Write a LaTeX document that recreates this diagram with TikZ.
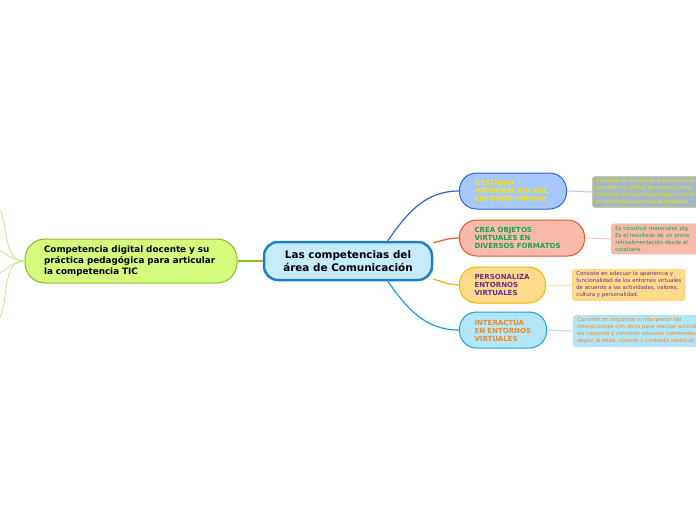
\documentclass[tikz,border=0pt]{standalone}
\usepackage{fontspec}
\setmainfont{DejaVu Sans}
\usetikzlibrary{positioning}

\definecolor{cenfill}{HTML}{C6ECFB}
\definecolor{cenline}{HTML}{1D80C4}
\definecolor{leftfill}{HTML}{D5FB7D}
\definecolor{leftline}{HTML}{8DB82D}
\definecolor{leftbranch}{HTML}{C9E28F}
\definecolor{gesfill}{HTML}{A6C8FC}
\definecolor{gesline}{HTML}{2B63D6}
\definecolor{gestext}{HTML}{F4DE10}
\definecolor{gesdesc}{HTML}{A3B8C4}
\definecolor{gesdline}{HTML}{D6C46C}
\definecolor{creafill}{HTML}{F8BBA9}
\definecolor{crealine}{HTML}{E9542C}
\definecolor{creatext}{HTML}{1AA34A}
\definecolor{perfill}{HTML}{FEDB8A}
\definecolor{perline}{HTML}{F7B500}
\definecolor{pertext}{HTML}{6B2D8E}
\definecolor{intfill}{HTML}{B4E6FA}
\definecolor{intline}{HTML}{18A0E0}
\definecolor{inttext}{HTML}{F08A24}

\begin{document}
\begin{tikzpicture}[x=1pt,y=-1pt,
  topic/.style={draw,line width=1pt,rounded corners=17pt,minimum height=36pt,
    anchor=west,inner xsep=15pt,align=left,
    font=\fontsize{7}{8}\selectfont\bfseries},
  desc/.style={draw,line width=.6pt,rounded corners=3pt,anchor=west,
    inner xsep=4pt,inner ysep=2.5pt,align=left,
    font=\fontsize{5.4}{7}\selectfont},
  branch/.style={line width=1.2pt},
  twig/.style={line width=1pt}]
\useasboundingbox (0,0) rectangle (696,520);

% centro y rama izquierda
\node[draw=cenline,fill=cenfill,line width=2.5pt,rounded corners=14pt,
  minimum width=168pt,minimum height=38pt,align=center,
  font=\fontsize{10.4}{13}\selectfont\bfseries] (cen) at (348,261)
  {Las competencias del\\área de Comunicación};
\node[draw=leftline,fill=leftfill,line width=1pt,rounded corners=20pt,
  minimum height=44pt,text width=174pt,inner xsep=19pt,align=left,
  font=\fontsize{8.8}{11}\selectfont\bfseries] (comp) at (131,261)
  {Competencia digital docente y su\\práctica pedagógica para articular\\la competencia TIC};
\draw[branch,draw=leftline] (comp.east) -- (cen.west);

\coordinate (l1) at (-14,200);
\coordinate (l2) at (-14,247);
\coordinate (l3) at (-14,278);
\coordinate (l4) at (-14,327);
\foreach \c in {l1,l2,l3,l4}
  \draw[draw=leftbranch,line width=.8pt] (comp.west) to[out=180,in=0] (\c);

% competencias
\node[topic,draw=gesline,fill=gesfill,text=gestext,text width=77pt] (ges) at (459,191)
  {GESTIONA\\INFORMACIÓN DEL\\ENTORNO VIRTUAL};
\node[topic,draw=crealine,fill=creafill,text=creatext,text width=95pt] (crea) at (459,238)
  {CREA OBJETOS\\VIRTUALES EN\\DIVERSOS FORMATOS};
\node[topic,draw=perline,fill=perfill,text=pertext,text width=56pt] (per) at (459,285)
  {PERSONALIZA\\ENTORNOS\\VIRTUALES};
\node[topic,draw=intline,fill=intfill,text=inttext,text width=57pt] (int) at (459,330)
  {INTERACTÚA\\EN ENTORNOS\\VIRTUALES};

\draw[branch,draw=gesline] (cen.27) to[out=55,in=180] (ges.west);
\draw[branch,draw=crealine] (cen.12) to[out=15,in=180] (crea.west);
\draw[branch,draw=perline] (cen.-12) to[out=-15,in=180] (per.west);
\draw[branch,draw=intline] (cen.-27) to[out=-55,in=180] (int.west);

% descripciones
\node[desc,draw=gesdline,fill=gesdesc,text=gestext,text width=120pt] (gesd) at (592,192)
  {Consiste en organizar y sistematizar\\del entorno virtual de manera ética\\tomando en cuenta sus tipos y nivel\\la relevancia para sus actividades.};
\node[desc,draw=crealine!45,fill=creafill,text=creatext,text width=110pt] (cread) at (611,239)
  {Es construir materiales dig\\Es el resultado de un proce\\retroalimentación desde el\\cotidiana.};
\node[desc,draw=perline!60,fill=perfill,text=pertext] (perd) at (572,285)
  {Consiste en adecuar la apariencia y\\funcionalidad de los entornos virtuales\\de acuerdo a las actividades, valores,\\cultura y personalidad.};
\node[desc,draw=intline!40,fill=intfill,text=inttext,text width=140pt] (intd) at (573,331)
  {Consiste en organizar e interpretar las\\interacciones con otros para realizar activid\\en conjunto y construir vínculos coherentes\\según la edad, valores y contexto sociocult};

\draw[twig,draw=gesline!35] (ges.east) -- (gesd.west);
\draw[twig,draw=crealine!30] (crea.east) -- (cread.west);
\draw[twig,draw=perline!35] (per.east) -- (perd.west);
\draw[twig,draw=intline!35] (int.east) -- (intd.west);
\end{tikzpicture}
\end{document}
